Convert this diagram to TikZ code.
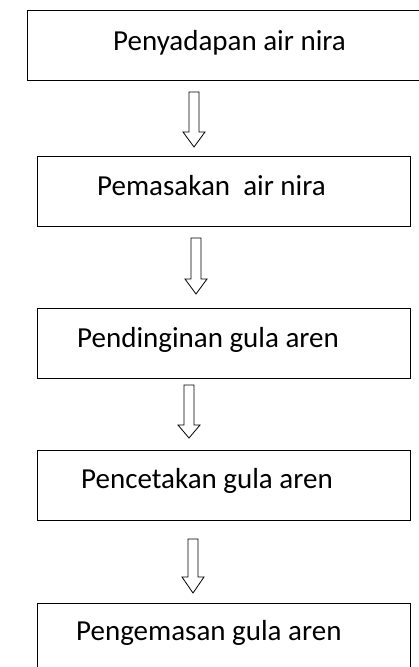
\documentclass[tikz,border=0pt]{standalone}
\usepackage{fontspec}
\setmainfont{Carlito}
\usetikzlibrary{calc}
% hollow block arrow: centre x, top y, head base y, tip y
\def\hollowarrow(#1,#2,#3,#4){\draw[line width=0.8pt, fill=white] (#1-5,#2) -- (#1+5,#2) -- (#1+5,#3) -- (#1+11,#3) -- (#1,#4) -- (#1-11,#3) -- (#1-5,#3) -- cycle;}

\begin{document}
\begin{tikzpicture}[x=1pt, y=-1pt,
	stepbox/.style={draw, line width=1.3pt, inner sep=0pt, anchor=north west},
	steptext/.style={anchor=base west, inner sep=0pt, font=\fontsize{29}{34}\selectfont}]
		%%%%% START %%%%%
		\clip (0,0) rectangle (419,667);
		
		\node[stepbox, minimum width=395pt, minimum height=70pt] (sadap) at (27,10) {};
		\node[stepbox, minimum width=373pt, minimum height=70pt] (masak) at (37,156) {};
		\node[stepbox, minimum width=373pt, minimum height=70pt] (dingin) at (37,308) {};
		\node[stepbox, minimum width=373pt, minimum height=70pt] (cetak) at (37,450) {};
		\node[stepbox, minimum width=373pt, minimum height=70pt] (kemas) at (37,603) {};
		
		\node[steptext] (tsadap) at (113,50) {Penyadapan air nira};
		\node[steptext] (tmasak) at (97,195) {Pemasakan\ \ air nira};
		\node[steptext] (tdingin) at (77,347) {Pendinginan gula aren};
		\node[steptext] (tcetak) at (81,488) {Pencetakan gula aren};
		\node[steptext] (tkemas) at (76,640) {Pengemasan gula aren};
		
		\hollowarrow(194,92,132,147)
		\hollowarrow(196,238,279,294)
		\hollowarrow(189,385,425,438)
		\hollowarrow(193,539,577,593)
		%%%%% END %%%%%
	\end{tikzpicture}
\end{document}
